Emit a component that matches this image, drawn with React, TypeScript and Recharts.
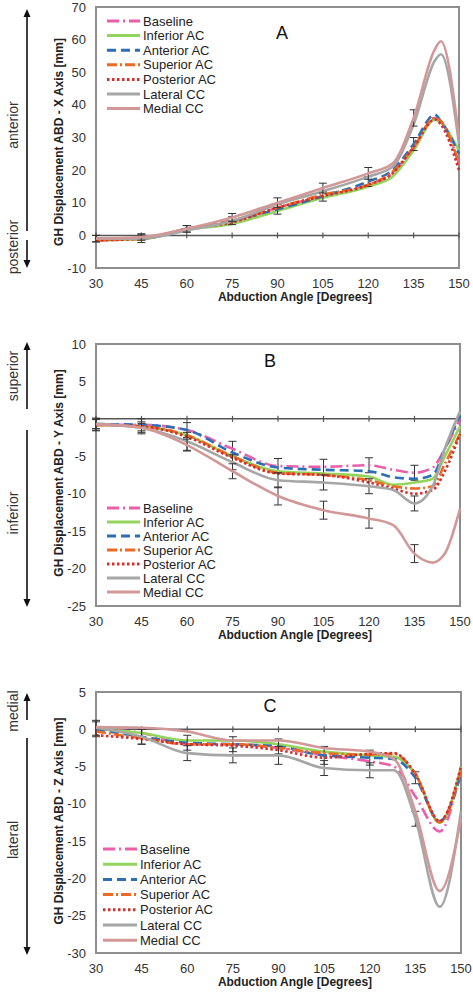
import {
  ErrorBar,
  Line,
  LineChart,
  ReferenceArea,
  ReferenceLine,
  XAxis,
  YAxis,
} from "recharts";

// abduction angles (deg) used by each panel
const anglesA = [30, 45, 60, 75, 90, 105, 120, 128, 135, 142, 144, 150];
const anglesB = [30, 45, 60, 75, 90, 105, 120, 128, 135, 141, 145, 150];
const anglesC = [30, 45, 60, 75, 90, 105, 120, 128, 135, 143, 150];

const xTicks = [30, 45, 60, 75, 90, 105, 120, 135, 150];
const yTicksA = [-10, 0, 10, 20, 30, 40, 50, 60, 70];
const yTicksB = [-25, -20, -15, -10, -5, 0, 5, 10];
const yTicksC = [-30, -25, -20, -15, -10, -5, 0, 5];

// Panel A - X axis displacement [mm]
const baselineA = [-1.5, -1, 2, 4, 8.5, 12, 15.5, 19, 27, 36, 35, 22];
const inferiorA = [-1.5, -1.2, 1.8, 3.5, 7.5, 11.5, 15, 18, 26, 35.5, 34.5, 26];
const anteriorA = [-1, -1, 2, 4.5, 8, 12, 16.5, 20, 28, 37, 35, 25];
const superiorA = [-1.5, -1, 2, 4.5, 8.5, 12.5, 15.5, 19.5, 27, 36, 35, 22];
const posteriorA = [-1.5, -1, 2, 4, 8.5, 12, 15.5, 19, 27, 35.5, 34, 20];
const lateralA = [-1, -1, 1.5, 4.5, 9.5, 13.5, 18, 21, 34, 53.5, 55.5, 28];
const medialA = [-1, -0.5, 2, 5.5, 10, 14.5, 19, 22, 36, 57, 59.5, 30];
const anteriorErrA = [1, 1.2, 1, 1.2, 1.5, 1.5, 1.5, null, 2, null, null, null];
const medialErrA = [1, 1, 1, 1.2, 1.5, 1.5, 1.8, null, 2.5, null, null, null];

// Panel B - Y axis displacement [mm]
const baselineB = [-0.8, -0.8, -1.5, -4, -6.3, -6.4, -6.2, -6.8, -7.2, -6.5, -4, 0];
const inferiorB = [-0.8, -1, -2.2, -5, -7, -7.3, -7.7, -8.8, -8.5, -8, -5, -1];
const anteriorB = [-0.7, -0.8, -1.5, -4.5, -6.5, -6.8, -7, -7.8, -8, -7.5, -4, 0.5];
const superiorB = [-0.8, -1, -2.2, -5, -7.2, -7.5, -8.2, -9, -9.3, -9, -6, -2];
const posteriorB = [-0.8, -1, -2.4, -5.2, -7.3, -7.5, -8.5, -9.3, -10, -9.5, -7, -2];
const lateralB = [-0.7, -1.2, -3, -5.8, -8.2, -8.5, -9, -9.5, -11.3, -9, -4, 1];
const medialB = [-0.7, -1.2, -3.5, -7, -10.3, -12.2, -13.3, -14.2, -18, -19.2, -18, -12];
const baselineErrB = [0.8, 0.8, 1, 1, 1, 1, 1, null, 1, null, null, null];
const lateralErrB = [0.8, 0.8, 1.2, 1, 1, 1, 1, null, 1, null, null, null];
const medialErrB = [0.6, 0.6, 0.8, 1, 1.2, 1.2, 1.3, null, 1.2, null, null, null];

// Panel C - Z axis displacement [mm]
const baselineC = [0, -0.5, -2, -2, -2.5, -3.5, -4.3, -5, -9, -13.7, -5];
const inferiorC = [0, -0.5, -1.5, -1.5, -2, -3, -3.5, -3.7, -6, -12.5, -5];
const anteriorC = [0, -1, -1.8, -2, -2.3, -3.5, -3.8, -4, -6.5, -12.3, -6];
const superiorC = [-0.3, -1.2, -2, -2, -2.5, -3.2, -3.4, -3.3, -6, -12.5, -5.5];
const posteriorC = [-0.8, -1.3, -2, -2.2, -2.8, -3.8, -3.3, -3.2, -6, -12.3, -5];
const lateralC = [0.2, -1, -3.2, -3.5, -3.5, -5.2, -5.5, -5.5, -12, -23.8, -11];
const medialC = [0.3, 0.2, -0.3, -1.5, -1.5, -2.5, -3, -4, -11, -21.7, -12];
const lateralErrC = [1, 1, 1, 1, 1.2, 1, 1, null, 1, null, null];
const anteriorErrC = [1, 1, 1, 1, 1, 1.2, 1, null, 0.8, null, null];

const series = [
  { key: "baseline", name: "Baseline", color: "#e95fa9", dash: "12 4 2 4" },
  { key: "inferior", name: "Inferior AC", color: "#93d45c", dash: undefined },
  { key: "anterior", name: "Anterior AC", color: "#2d6fb7", dash: "9 5" },
  { key: "superior", name: "Superior AC", color: "#ec6a24", dash: "10 3 2 3" },
  { key: "posterior", name: "Posterior AC", color: "#d3302d", dash: "2.5 2.5" },
  { key: "lateral", name: "Lateral CC", color: "#a6a6a6", dash: undefined },
  { key: "medial", name: "Medial CC", color: "#d29898", dash: undefined },
];

const buildRows = (angles: number[], cols: Record<string, (number | null)[]>) =>
  angles.map((angle, i) => {
    const row: Record<string, number | null> = { angle };
    Object.keys(cols).forEach((k) => (row[k] = cols[k][i]));
    return row;
  });

const dataA = buildRows(anglesA, {
  baseline: baselineA, inferior: inferiorA, anterior: anteriorA, superior: superiorA,
  posterior: posteriorA, lateral: lateralA, medial: medialA,
  anteriorErr: anteriorErrA, medialErr: medialErrA,
});
const dataB = buildRows(anglesB, {
  baseline: baselineB, inferior: inferiorB, anterior: anteriorB, superior: superiorB,
  posterior: posteriorB, lateral: lateralB, medial: medialB,
  baselineErr: baselineErrB, lateralErr: lateralErrB, medialErr: medialErrB,
});
const dataC = buildRows(anglesC, {
  baseline: baselineC, inferior: inferiorC, anterior: anteriorC, superior: superiorC,
  posterior: posteriorC, lateral: lateralC, medial: medialC,
  lateralErr: lateralErrC, anteriorErr: anteriorErrC,
});

const font = "'Liberation Sans', Arial, sans-serif";
const tickStyle = { fontSize: 13, fill: "#333", fontFamily: font };

// legend drawn in the overlay so it doesn't eat chart space
function LegendBox({ x, y, gap, lineW }: { x: number; y: number; gap: number; lineW: number }) {
  return (
    <g transform={`translate(${x} ${y})`}>
      {series.map((s, i) => {
        const ly = i * gap;
        return (
          <g key={s.key}>
            <line x1={0} x2={lineW} y1={ly} y2={ly} stroke={s.color} strokeWidth={3} strokeDasharray={s.dash} />
            <text x={lineW + 3} y={ly} dominantBaseline="central" fontSize={13} fill="#222" fontFamily={font}>
              {s.name}
            </text>
          </g>
        );
      })}
    </g>
  );
}

type PanelProps = {
  data: Record<string, number | null>[];
  height: number;
  margin: { top: number; right: number; bottom: number; left: number };
  yDomain: [number, number];
  yTicks: number[];
  tickH: number;
  errors: Record<string, string>;
};

function Panel(p: PanelProps) {
  return (
    <LineChart width={473} height={p.height} data={p.data} margin={p.margin}>
      <XAxis
        dataKey="angle"
        type="number"
        domain={[30, 150]}
        ticks={xTicks}
        axisLine={false}
        tickLine={false}
        tickSize={0}
        tickMargin={11}
        height={20}
        tick={tickStyle}
        interval={0}
      />
      <YAxis
        type="number"
        domain={p.yDomain}
        ticks={p.yTicks}
        allowDataOverflow
        axisLine={false}
        tickLine={false}
        tickSize={0}
        tickMargin={10}
        width={30}
        tick={tickStyle}
        interval={0}
      />
      <ReferenceArea x1={30} x2={150} y1={p.yDomain[0]} y2={p.yDomain[1]} fill="none" stroke="#8e8e8e" strokeWidth={2} />
      <ReferenceLine y={0} stroke="#555" strokeWidth={1.5} />
      {xTicks.map((t) => (
        <ReferenceLine
          key={t}
          segment={[{ x: t, y: -p.tickH }, { x: t, y: p.tickH }]}
          stroke="#555"
          strokeWidth={1.2}
        />
      ))}
      {series.map((s) => (
        <Line
          key={s.key}
          dataKey={s.key}
          type="monotone"
          stroke={s.color}
          strokeWidth={2.6}
          strokeDasharray={s.dash}
          dot={false}
          isAnimationActive={false}
          connectNulls
        >
          {p.errors[s.key] ? (
            <ErrorBar dataKey={p.errors[s.key]} width={4} stroke="#333" strokeWidth={1} direction="y" />
          ) : null}
        </Line>
      ))}
    </LineChart>
  );
}

function Arrow({ x, from, to }: { x: number; from: number; to: number }) {
  const dir = to < from ? -1 : 1;
  return (
    <g>
      <line x1={x} x2={x} y1={from} y2={to - dir * 6} stroke="#111" strokeWidth={1.6} />
      <polygon points={`${x},${to} ${x - 3.5},${to - dir * 8} ${x + 3.5},${to - dir * 8}`} fill="#111" />
    </g>
  );
}

function SideText({ x, y, text }: { x: number; y: number; text: string }) {
  return (
    <text x={x} y={y} transform={`rotate(-90 ${x} ${y})`} textAnchor="middle" dominantBaseline="central" fontSize={14} fill="#333" fontFamily={font}>
      {text}
    </text>
  );
}

function AxisTitle({ x, y, text, vertical }: { x: number; y: number; text: string; vertical?: boolean }) {
  return (
    <text
      x={x}
      y={y}
      transform={vertical ? `rotate(-90 ${x} ${y})` : undefined}
      textAnchor="middle"
      dominantBaseline="central"
      fontSize={12}
      fontWeight="bold"
      fill="#222"
      fontFamily={font}
    >
      {text}
    </text>
  );
}

export default function App() {
  return (
    <div style={{ position: "absolute", left: 0, top: 0, width: 473, height: 992, background: "#fff", fontFamily: font }}>
      <div style={{ position: "absolute", left: 0, top: 0 }}>
        <Panel
          data={dataA}
          height={330}
          margin={{ top: 7, right: 14, bottom: 42, left: 66 }}
          yDomain={[-10, 70]}
          yTicks={yTicksA}
          tickH={0.9}
          errors={{ anterior: "anteriorErr", medial: "medialErr" }}
        />
      </div>
      <div style={{ position: "absolute", left: 0, top: 330 }}>
        <Panel
          data={dataB}
          height={330}
          margin={{ top: 14, right: 13, bottom: 34, left: 66 }}
          yDomain={[-25, 10]}
          yTicks={yTicksB}
          tickH={0.4}
          errors={{ baseline: "baselineErr", lateral: "lateralErr", medial: "medialErr" }}
        />
      </div>
      <div style={{ position: "absolute", left: 0, top: 660 }}>
        <Panel
          data={dataC}
          height={332}
          margin={{ top: 32, right: 12, bottom: 19, left: 66 }}
          yDomain={[-30, 5]}
          yTicks={yTicksC}
          tickH={0.4}
          errors={{ lateral: "lateralErr", anterior: "anteriorErr" }}
        />
      </div>
      <svg width={473} height={992} style={{ position: "absolute", left: 0, top: 0, pointerEvents: "none" }}>
        <LegendBox x={107} y={21} gap={14.6} lineW={33} />
        <LegendBox x={107} y={508} gap={14} lineW={33} />
        <LegendBox x={103} y={849} gap={15.2} lineW={34} />

        {/* panel letters */}
        <text x={282} y={33} textAnchor="middle" dominantBaseline="central" fontSize={18} fill="#111" fontFamily={font}>A</text>
        <text x={270} y={361} textAnchor="middle" dominantBaseline="central" fontSize={18} fill="#111" fontFamily={font}>B</text>
        <text x={270} y={706} textAnchor="middle" dominantBaseline="central" fontSize={18} fill="#111" fontFamily={font}>C</text>

        {/* axis titles */}
        <AxisTitle x={59} y={142} text="GH Displacement ABD - X Axis [mm]" vertical />
        <AxisTitle x={59} y={473} text="GH Displacement ABD - Y Axis [mm]" vertical />
        <AxisTitle x={59} y={821} text="GH Displacement ABD - Z Axis [mm]" vertical />
        <AxisTitle x={295} y={297} text="Abduction Angle [Degrees]" />
        <AxisTitle x={295} y={635} text="Abduction Angle [Degrees]" />
        <AxisTitle x={295} y={982} text="Abduction Angle [Degrees]" />

        {/* direction arrows */}
        <Arrow x={27} from={231} to={9} />
        <Arrow x={27} from={240} to={268} />
        <SideText x={13} y={125} text="anterior" />
        <SideText x={13} y={247} text="posterior" />

        <Arrow x={27} from={409} to={342} />
        <Arrow x={27} from={430} to={607} />
        <SideText x={13} y={376} text="superior" />
        <SideText x={13} y={513} text="inferior" />

        <Arrow x={27} from={720} to={693} />
        <Arrow x={27} from={738} to={955} />
        <SideText x={13} y={711} text="medial" />
        <SideText x={13} y={840} text="lateral" />
      </svg>
    </div>
  );
}
